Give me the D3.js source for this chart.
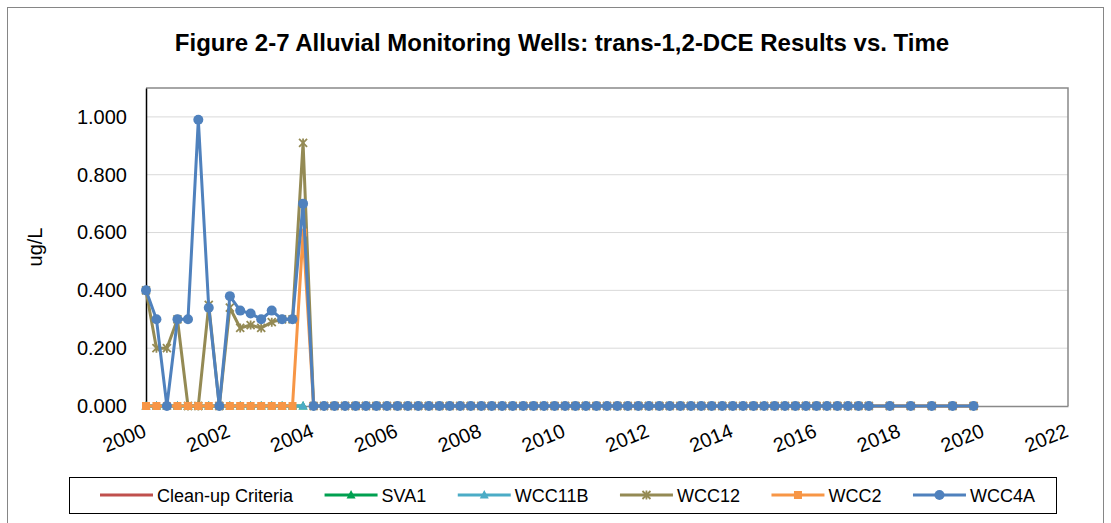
<!DOCTYPE html>
<html>
<head>
<meta charset="utf-8">
<script src="https://cdn.jsdelivr.net/npm/d3@7"></script>
<style>
  body { margin: 0; background: #fff; }
  text { font-family: "Liberation Sans", Arial, sans-serif; fill: #000; }
</style>
</head>
<body>
<svg id="chart" width="1111" height="523"></svg>
<script>
// sample dates (quarterly, then semi-annual from 2017)
const sampleDates = (
  '2000-01 2000-04 2000-07 2000-10 2001-01 2001-04 2001-07 2001-10 ' +
  '2002-01 2002-04 2002-07 2002-10 2003-01 2003-04 2003-07 2003-10 ' +
  '2004-01 2004-04 2004-07 2004-10 2005-01 2005-04 2005-07 2005-10 ' +
  '2006-01 2006-04 2006-07 2006-10 2007-01 2007-04 2007-07 2007-10 ' +
  '2008-01 2008-04 2008-07 2008-10 2009-01 2009-04 2009-07 2009-10 ' +
  '2010-01 2010-04 2010-07 2010-10 2011-01 2011-04 2011-07 2011-10 ' +
  '2012-01 2012-04 2012-07 2012-10 2013-01 2013-04 2013-07 2013-10 ' +
  '2014-01 2014-04 2014-07 2014-10 2015-01 2015-04 2015-07 2015-10 ' +
  '2016-01 2016-04 2016-07 2016-10 2017-01 2017-04 2017-10 2018-04 ' +
  '2018-10 2019-04 2019-10'
).split(' ');

const cleanupValues = [];
const sva1Values = [0, 0, 0, 0, 0, 0, 0, 0, 0, 0, 0, 0, 0, 0, 0, 0];
const wcc11bValues = [0, 0, 0, 0, 0, 0, 0, 0, 0, 0, 0, 0, 0, 0, 0, 0];
const wcc12Values = [
  0.40, 0.20, 0.20, 0.30, 0, 0, 0.35, 0, 0.34, 0.27, 0.28, 0.27, 0.29, 0.30, 0.30, 0.91,
  0, 0, 0, 0, 0, 0, 0, 0, 0, 0, 0, 0, 0, 0, 0, 0,
  0, 0, 0, 0, 0, 0, 0, 0, 0, 0, 0, 0, 0, 0, 0, 0,
  0, 0, 0, 0, 0, 0, 0, 0, 0, 0, 0, 0, 0, 0, 0, 0,
  0, 0, 0, 0, 0, 0, 0, 0, 0, 0, 0
];
const wcc2Values = [
  0, 0, 0, 0, 0, 0, 0, 0, 0, 0, 0, 0, 0, 0, 0, 0.60,
  0, 0, 0, 0, 0, 0, 0, 0, 0, 0, 0, 0, 0, 0, 0, 0,
  0, 0, 0, 0, 0, 0, 0, 0, 0, 0, 0, 0, 0, 0, 0, 0,
  0, 0, 0, 0, 0, 0, 0, 0, 0, 0, 0, 0, 0, 0, 0, 0,
  0, 0, 0, 0, 0, 0, 0, 0, 0, 0, 0
];
const wcc4aValues = [
  0.40, 0.30, 0, 0.30, 0.30, 0.99, 0.34, 0, 0.38, 0.33, 0.32, 0.30, 0.33, 0.30, 0.30, 0.70,
  0, 0, 0, 0, 0, 0, 0, 0, 0, 0, 0, 0, 0, 0, 0, 0,
  0, 0, 0, 0, 0, 0, 0, 0, 0, 0, 0, 0, 0, 0, 0, 0,
  0, 0, 0, 0, 0, 0, 0, 0, 0, 0, 0, 0, 0, 0, 0, 0,
  0, 0, 0, 0, 0, 0, 0, 0, 0, 0, 0
];
const yTicks = [0, 0.2, 0.4, 0.6, 0.8, 1.0];
const xTickYears = [2000, 2002, 2004, 2006, 2008, 2010, 2012, 2014, 2016, 2018, 2020, 2022];

const series = [
  { name: 'Clean-up Criteria', values: cleanupValues, color: '#C0504D', marker: 'none' },
  { name: 'SVA1', values: sva1Values, color: '#00A050', marker: 'triangle' },
  { name: 'WCC11B', values: wcc11bValues, color: '#4BACC6', marker: 'triangle' },
  { name: 'WCC12', values: wcc12Values, color: '#948A54', marker: 'star' },
  { name: 'WCC2', values: wcc2Values, color: '#F79646', marker: 'square' },
  { name: 'WCC4A', values: wcc4aValues, color: '#4F81BD', marker: 'circle' }
];

const parse = d3.timeParse('%Y-%m');
const svg = d3.select('#chart');

// chart area frame
svg.append('rect')
  .attr('x', 7.5).attr('y', 7.5).attr('width', 1096).attr('height', 530)
  .attr('fill', '#fff').attr('stroke', '#868686').attr('stroke-width', 1);

svg.append('text')
  .attr('x', 562).attr('y', 51)
  .attr('text-anchor', 'middle')
  .style('font-size', '24px').style('font-weight', 'bold')
  .text('Figure 2-7 Alluvial Monitoring Wells: trans-1,2-DCE Results vs. Time');

const x = d3.scaleTime()
  .domain([new Date(2000, 0, 1), new Date(2022, 0, 1)])
  .range([146, 1068]);
const y = d3.scaleLinear().domain([0, 1.1]).range([406, 88]);

// gridlines
svg.append('g')
  .selectAll('line')
  .data(yTicks.slice(1))
  .enter()
  .append('line')
  .attr('x1', 146).attr('x2', 1068)
  .attr('y1', d => y(d)).attr('y2', d => y(d))
  .attr('stroke', '#d9d9d9').attr('stroke-width', 1);

// plot area border (top/right)
svg.append('path')
  .attr('d', `M146,${y(1.1)}H1068V${y(0)}`)
  .attr('fill', 'none').attr('stroke', '#898989').attr('stroke-width', 1.5);

// y axis
const yAxis = svg.append('g')
  .attr('transform', 'translate(146,0)')
  .call(d3.axisLeft(y).tickValues(yTicks).tickFormat(d3.format('.3f')).tickSize(0).tickPadding(19));
yAxis.select('.domain').attr('stroke', '#000').attr('stroke-width', 1.5);
yAxis.selectAll('text').style('font-size', '20px').style('font-family', '"Liberation Sans", Arial, sans-serif');

// x axis
const xAxis = svg.append('g')
  .attr('transform', `translate(0,${y(0)})`)
  .call(d3.axisBottom(x).tickValues(xTickYears.map(yr => new Date(yr, 0, 1))).tickSize(0).tickFormat(d3.timeFormat('%Y')));
xAxis.select('.domain').attr('stroke', '#898989').attr('stroke-width', 1.5);
xAxis.selectAll('text')
  .style('font-size', '20px')
  .style('font-family', '"Liberation Sans", Arial, sans-serif')
  .attr('text-anchor', 'end')
  .attr('dy', '0')
  .attr('y', 0)
  .attr('transform', 'translate(1,30) rotate(-22)');

svg.append('text')
  .attr('transform', 'translate(42,247) rotate(-90)')
  .attr('text-anchor', 'middle')
  .style('font-size', '20px')
  .text('ug/L');

// markers
function drawMarker(g, type, color, px, py) {
  if (type === 'circle') {
    g.append('circle').attr('cx', px).attr('cy', py).attr('r', 5).attr('fill', color);
  } else if (type === 'square') {
    g.append('rect').attr('x', px - 4).attr('y', py - 4).attr('width', 8).attr('height', 8).attr('fill', color);
  } else if (type === 'triangle') {
    g.append('path').attr('d', `M${px},${py - 5}L${px + 4.5},${py + 3.5}L${px - 4.5},${py + 3.5}Z`).attr('fill', color);
  } else if (type === 'star') {
    g.append('path')
      .attr('d', `M${px - 4},${py - 4}L${px + 4},${py + 4}M${px + 4},${py - 4}L${px - 4},${py + 4}M${px},${py - 4.5}V${py + 4.5}`)
      .attr('stroke', color).attr('stroke-width', 1.8).attr('fill', 'none');
  }
}

const line = d3.line().x(d => x(d.date)).y(d => y(d.value));

series.forEach(s => {
  const pts = s.values.map((v, i) => ({ date: parse(sampleDates[i]), value: v }));
  const g = svg.append('g');
  if (pts.length) {
    g.append('path').datum(pts).attr('d', line)
      .attr('fill', 'none').attr('stroke', s.color).attr('stroke-width', 3)
      .attr('stroke-linejoin', 'round');
    pts.forEach(p => drawMarker(g, s.marker, s.color, x(p.date), y(p.value)));
  }
});

// legend
svg.append('rect')
  .attr('x', 69.5).attr('y', 477.5).attr('width', 987).attr('height', 36)
  .attr('fill', '#fff').attr('stroke', '#000').attr('stroke-width', 1);

let lx = 100;
series.forEach(s => {
  const g = svg.append('g');
  g.append('line').attr('x1', lx).attr('x2', lx + 53).attr('y1', 495).attr('y2', 495)
    .attr('stroke', s.color).attr('stroke-width', 3);
  drawMarker(g, s.marker, s.color, lx + 26.5, 495);
  const t = g.append('text').attr('x', lx + 57).attr('y', 501.5)
    .style('font-size', '18px').text(s.name);
  lx += 57 + t.node().getComputedTextLength() + 31.5;
});
</script>
</body>
</html>
